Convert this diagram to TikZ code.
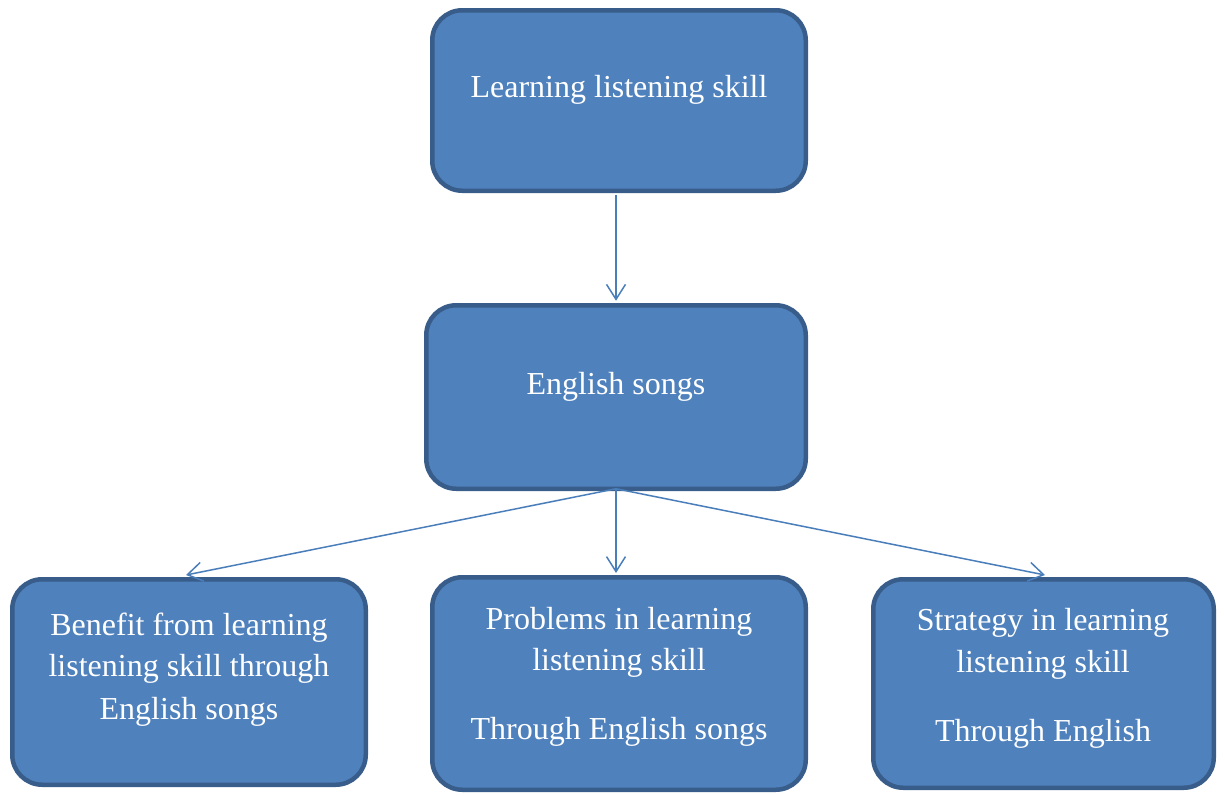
\documentclass[tikz,border=0pt]{standalone}
\usepackage{fontspec}
\setmainfont{Liberation Serif}
\usetikzlibrary{arrows.meta,calc}
\definecolor{boxfill}{RGB}{79,129,189}
\definecolor{boxline}{RGB}{56,93,138}
\definecolor{arrline}{RGB}{74,126,187}
\tikzset{
  boxnode/.style={draw=boxline, fill=boxfill, line width=4.5pt, rounded corners=30pt, inner sep=0pt},
  txt/.style={anchor=base, text=white, inner sep=0pt, font=\fontsize{32}{38}\selectfont},
  conn/.style={draw=arrline, line width=1.5pt, -{Straight Barb[length=15pt,width=19pt,line width=1.5pt]}}
}
\begin{document}
\begin{tikzpicture}[x=1pt,y=-1pt]
\useasboundingbox (0,0) rectangle (1225,795);
% boxes
\node[boxnode, minimum width=373.5pt, minimum height=180.5pt] (top) at (619,100.5) {};
\node[boxnode, minimum width=379.5pt, minimum height=183.5pt] (mid) at (616,397) {};
\node[boxnode, minimum width=353.5pt, minimum height=205.5pt] (bl) at (189,682) {};
\node[boxnode, minimum width=373.5pt, minimum height=212.5pt] (bm) at (619,683.5) {};
\node[boxnode, minimum width=340.5pt, minimum height=208.5pt] (br) at (1043.5,683.5) {};
% texts
\node[txt] (ttop) at (619,97.7) {Learning listening skill};
\node[txt] (tmid) at (616,394) {English songs};
\node[txt] (bl1) at (189,635) {Benefit from learning};
\node[txt] (bl2) at (189,676.7) {listening skill through};
\node[txt] (bl3) at (189,719) {English songs};
\node[txt] (bm1) at (619,629) {Problems in learning};
\node[txt] (bm2) at (619,670.7) {listening skill};
\node[txt] (bm3) at (619,739.3) {Through English songs};
\node[txt] (br1) at (1043,630) {Strategy in learning};
\node[txt] (br2) at (1043,672.3) {listening skill};
\node[txt] (br3) at (1043,741.7) {Through English};
% connectors
\coordinate (ms) at ($(mid.south)+(0,-2.25)$);
\draw[conn] ($(top.south)+(-3,2.25)$) -- ($(mid.north)+(0,-2.25)$);
\draw[conn] (ms) -- ($(bl.north)+(-3,-2)$);
\draw[conn] (ms) -- ($(bm.north)+(-3,-2)$);
\draw[conn] (ms) -- ($(br.north)+(1.5,-2)$);
\end{tikzpicture}
\end{document}
